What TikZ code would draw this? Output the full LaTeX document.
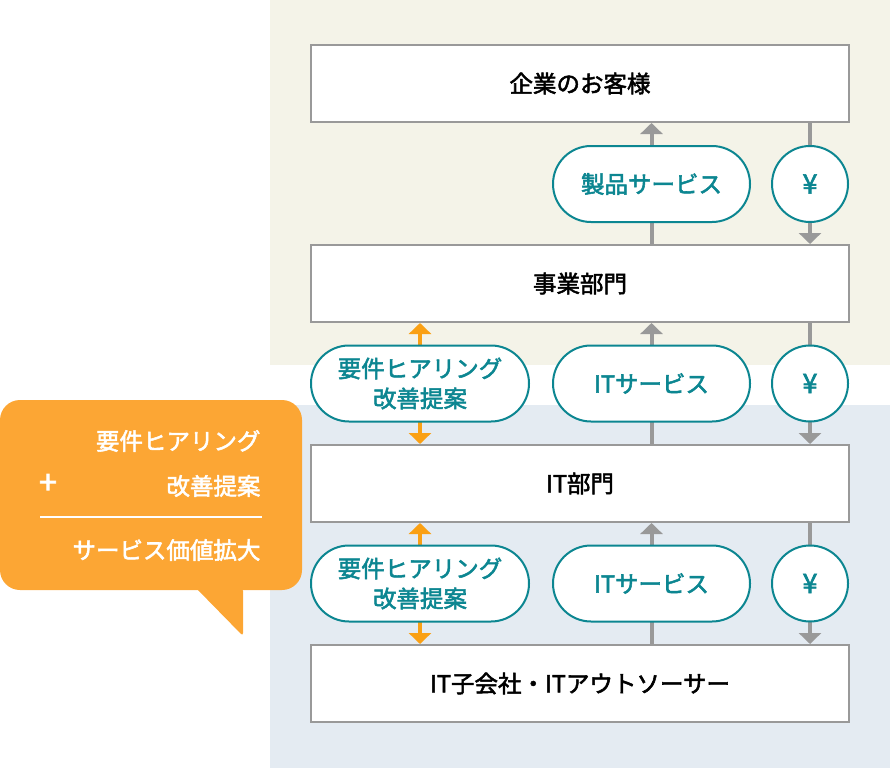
\documentclass[tikz,border=0pt]{standalone}
\usepackage{fontspec}
\setmainfont{Noto Sans CJK JP}
\newfontfamily\medfont[FakeBold=2.2]{Noto Sans CJK JP}
\usetikzlibrary{arrows.meta,positioning,calc}
\definecolor{beigebg}{RGB}{244,243,232}
\definecolor{bluebg}{RGB}{228,235,242}
\definecolor{boxgray}{RGB}{153,153,153}
\definecolor{tealc}{RGB}{12,134,145}
\definecolor{orangec}{RGB}{252,166,52}
\definecolor{arroworange}{RGB}{250,160,20}
\tikzset{
    layer/.style={draw=boxgray, line width=2, fill=white, minimum width=538, minimum height=77, font=\medfont\fontsize{23.5}{28}\selectfont},
    pill/.style={draw=tealc, line width=2, fill=white, rounded corners=38, minimum height=76, text=tealc, font=\medfont\fontsize{23.5}{30}\selectfont, align=center},
    yen/.style={draw=tealc, line width=2, fill=white, circle, minimum size=76, text=tealc, font=\medfont\fontsize{27}{28}\selectfont},
    flow/.style={-{Triangle[width=22, length=11]}, line width=4, boxgray},
    talk/.style={{Triangle[width=22, length=11]}-{Triangle[width=22, length=11]}, line width=4, arroworange},
    bubbletext/.style={text=white, font=\medfont\fontsize{23.5}{28}\selectfont, anchor=east}
}
\begin{document}
\begin{tikzpicture}[x=1pt, y=-1pt, node distance=121pt]
\useasboundingbox (0,0) rectangle (890,768);
% backgrounds
\fill[beigebg] (270,0) rectangle (890,365);
\fill[bluebg] (270,405) rectangle (890,768);
% layers
\node[layer] (client) at (580,83.5) {企業のお客様};
\node[layer, below=of client] (biz) {事業部門};
\node[layer, below=of biz] (itdept) {IT部門};
\node[layer, below=of itdept] (vendor) {IT子会社・ITアウトソーサー};
% coordinates of the columns
\coordinate (colreq) at (420,0);
\coordinate (colsvc) at (651.5,0);
\coordinate (colyen) at (810,0);
% flows
\foreach \lo/\hi in {biz/client, itdept/biz, vendor/itdept} {
    \draw[flow] (\lo.north -| colsvc) -- (\hi.south -| colsvc);
    \draw[flow] (\hi.south -| colyen) -- (\lo.north -| colyen);
}
\draw[talk] (biz.south -| colreq) -- (itdept.north -| colreq);
\draw[talk] (itdept.south -| colreq) -- (vendor.north -| colreq);
% pills
\node[pill, minimum width=197] (product) at (651.5,184) {製品サービス};
\node[yen] (yen1) at (810,184) {¥};
\node[pill, minimum width=218] (req1) at (420,383.5) {要件ヒアリング\\改善提案};
\node[pill, minimum width=197] (itsvc1) at (651.5,383.5) {ITサービス};
\node[yen] (yen2) at (810,383.5) {¥};
\node[pill, minimum width=218] (req2) at (420,583.5) {要件ヒアリング\\改善提案};
\node[pill, minimum width=197] (itsvc2) at (651.5,583.5) {ITサービス};
\node[yen] (yen3) at (810,583.5) {¥};
% speech bubble
\fill[orangec, rounded corners=20] (0,400) rectangle (302,590);
\fill[orangec, rounded corners=3] (196,588) -- (243,636) -- (243,588) -- cycle;
\node[bubbletext] (hear) at (264,441) {要件ヒアリング};
\node[bubbletext] (kaizen) at (264,486) {改善提案};
\node[text=white, font=\medfont\fontsize{32}{30}\selectfont] (plus) at (48,484) {+};
\draw[white, line width=1.5] (40,517) -- (262,517);
\node[bubbletext] (value) at (264,550) {サービス価値拡大};
\end{tikzpicture}
\end{document}
